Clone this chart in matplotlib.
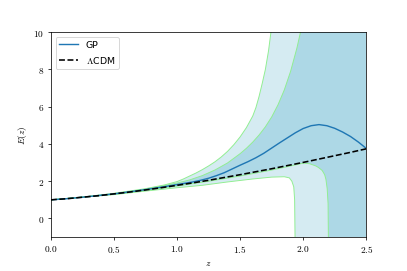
import numpy as np
import matplotlib
matplotlib.use('Agg')
import matplotlib.pyplot as plt
from matplotlib.ticker import FuncFormatter

plt.rcParams['mathtext.fontset'] = 'cm'

# LCDM reference curve E(z)
z_lcdm = [0.0, 0.125, 0.25, 0.375, 0.5, 0.625, 0.75, 0.875, 1.0, 1.125, 1.25,
          1.375, 1.5, 1.625, 1.75, 1.875, 2.0, 2.125, 2.25, 2.375, 2.5]
E_lcdm = [1.00, 1.06, 1.14, 1.22, 1.32, 1.42, 1.53, 1.65, 1.78, 1.91, 2.05,
          2.20, 2.35, 2.51, 2.67, 2.84, 3.01, 3.19, 3.37, 3.55, 3.74]

# GP mean reconstruction
z_gp = [0.0, 0.125, 0.25, 0.375, 0.5, 0.625, 0.75, 0.875, 1.0, 1.0625,
        1.125, 1.1875, 1.25, 1.3125, 1.375, 1.4375, 1.5, 1.5625, 1.625,
        1.6875, 1.75, 1.8125, 1.875, 1.9375, 2.0, 2.0625, 2.125, 2.1875,
        2.25, 2.3125, 2.375, 2.4375, 2.5]
E_gp = [1.00, 1.06, 1.14, 1.23, 1.32, 1.43, 1.55, 1.68, 1.82, 1.89,
        1.96, 2.05, 2.16, 2.30, 2.46, 2.66, 2.86, 3.05, 3.26,
        3.50, 3.78, 4.06, 4.33, 4.60, 4.83, 4.98, 5.04, 4.98,
        4.84, 4.64, 4.40, 4.10, 3.76]

# 1 sigma band edges
z_up1 = [0.0, 0.25, 0.5, 0.75, 1.0, 1.1, 1.2, 1.3, 1.4, 1.5, 1.55, 1.6,
         1.65, 1.7, 1.75, 1.8, 1.85, 1.9, 1.95, 1.975, 2.0, 2.5]
E_up1 = [1.00, 1.14, 1.33, 1.57, 1.90, 2.07, 2.30, 2.60, 2.98, 3.48, 3.77,
         4.10, 4.48, 4.92, 5.45, 6.10, 6.90, 7.90, 9.15, 9.90, 10.7, 10.7]
z_lo1 = [0.0, 0.5, 1.0, 1.25, 1.5, 1.75, 1.9, 2.0, 2.05, 2.1, 2.12, 2.15,
         2.17, 2.18, 2.19, 2.197, 2.2, 2.5]
E_lo1 = [1.00, 1.30, 1.74, 2.00, 2.28, 2.60, 2.82, 2.97, 2.94, 2.82, 2.74,
         2.58, 2.35, 2.10, 1.60, 0.80, -1.5, -1.5]

# 2 sigma band edges
z_up2 = [0.0, 0.25, 0.5, 0.75, 0.9, 1.0, 1.05, 1.1, 1.15, 1.2, 1.25, 1.3,
         1.35, 1.4, 1.45, 1.5, 1.55, 1.6, 1.625, 1.65, 1.675, 1.7, 1.725,
         1.75, 1.77, 2.5]
E_up2 = [1.00, 1.15, 1.35, 1.60, 1.80, 1.98, 2.12, 2.28, 2.44, 2.62, 2.82,
         3.04, 3.30, 3.60, 3.96, 4.38, 4.88, 5.50, 5.95, 6.55, 7.25, 8.00,
         9.00, 10.3, 11.0, 11.0]
z_lo2 = [0.0, 0.5, 0.75, 1.0, 1.2, 1.4, 1.6, 1.75, 1.85, 1.89, 1.91, 1.925,
         1.932, 1.936, 2.5]
E_lo2 = [1.00, 1.28, 1.47, 1.65, 1.78, 1.96, 2.12, 2.22, 2.24, 2.18, 2.00,
         1.70, 1.00, -1.5, -1.5]


def band_polygon(z_up, E_up, z_lo, E_lo):
    zz = np.concatenate([z_up, z_lo[::-1]])
    ee = np.concatenate([E_up, E_lo[::-1]])
    return zz, ee


fig, ax = plt.subplots(figsize=(6, 4))
fig.subplots_adjust(left=0.125, right=0.9, top=0.88, bottom=0.125)

# 2 sigma region
zz, ee = band_polygon(z_up2, E_up2, z_lo2, E_lo2)
ax.fill(zz, ee, color='lightblue', alpha=0.5, lw=0)
ax.plot(z_up2, E_up2, color='lightgreen', lw=1)
ax.plot(z_lo2, E_lo2, color='lightgreen', lw=1)

# 1 sigma region
zz, ee = band_polygon(z_up1, E_up1, z_lo1, E_lo1)
ax.fill(zz, ee, color='lightblue', lw=0)
ax.plot(z_up1, E_up1, color='lightgreen', lw=1)
ax.plot(z_lo1, E_lo1, color='lightgreen', lw=1)

ax.plot(z_gp, E_gp, color='tab:blue', lw=1.5, label='GP')
ax.plot(z_lcdm, E_lcdm, 'k--', lw=1.7, label=r'$\Lambda$CDM')

ax.set_xlim(0, 2.5)
ax.set_ylim(-1, 10)
ax.set_xticks([0.0, 0.5, 1.0, 1.5, 2.0, 2.5])
ax.set_yticks([0, 2, 4, 6, 8, 10])
ax.xaxis.set_major_formatter(FuncFormatter(lambda v, p: r'$%.1f$' % v))
ax.yaxis.set_major_formatter(FuncFormatter(lambda v, p: r'$%d$' % v))
ax.set_xlabel(r'$z$')
ax.set_ylabel(r'$E(z)$')
ax.legend(loc='upper left')

fig.savefig('out.png', dpi=407 / 6)
